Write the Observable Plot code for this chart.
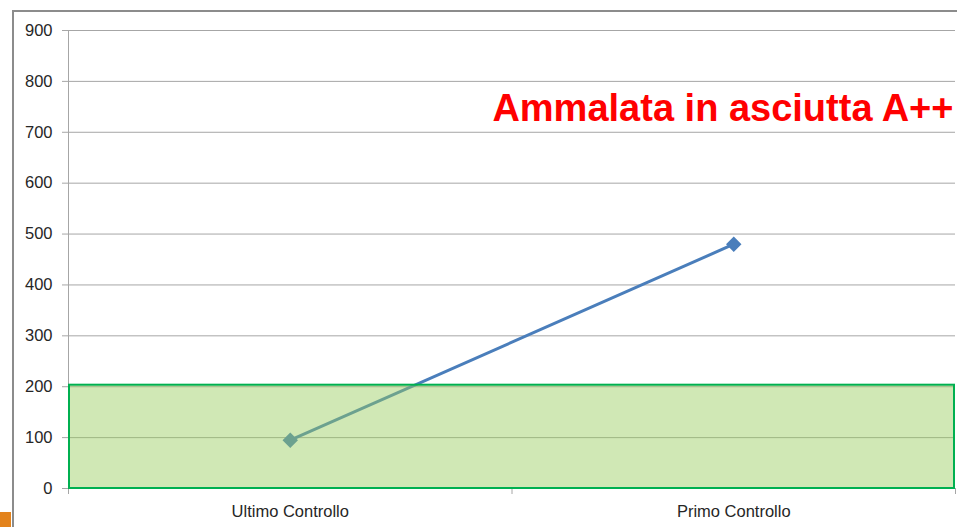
<!DOCTYPE html>
<html>
<head>
<meta charset="utf-8">
<script src="https://cdn.jsdelivr.net/npm/d3@7"></script>
<script src="https://cdn.jsdelivr.net/npm/@observablehq/plot@0.6"></script>
<style>
  html, body { margin: 0; padding: 0; background: #fff; overflow: hidden; }
  #wrap { position: relative; width: 957px; height: 527px; }
  #frame { position: absolute; left: 12px; top: 10px; width: 960px; height: 540px;
           border-left: 2px solid #8c8c8c; border-top: 2px solid #8c8c8c; }
  #corner { position: absolute; left: 0; top: 512px; width: 11px; height: 15px; background: #e3831c; }
  #chart { position: absolute; left: 0; top: 0; }
</style>
</head>
<body>
<div id="wrap">
  <div id="frame"></div>
  <div id="corner"></div>
  <div id="chart"></div>
</div>
<script>
const categories = ["Ultimo Controllo", "Primo Controllo"];
const values = [95, 480];
const yTicks = [0, 100, 200, 300, 400, 500, 600, 700, 800, 900];
const bandLow = 0;
const bandHigh = 203;
const title = "Ammalata in asciutta A++";

const pts = categories.map((c, i) => ({cat: c, x: i + 0.5, y: values[i]}));

const chart = Plot.plot({
  width: 957,
  height: 527,
  marginLeft: 68,
  marginRight: 2,
  marginTop: 30,
  marginBottom: 39,
  style: {fontFamily: "'Liberation Sans', Arial, sans-serif", fontSize: "16px", color: "#262626", background: "transparent"},
  x: {domain: [0, categories.length], axis: null},
  y: {domain: [0, 900], axis: null},
  marks: [
    Plot.gridY(yTicks.filter(d => d > 0), {stroke: "#a6a6a6", strokeOpacity: 1}),
    Plot.axisY(yTicks, {tickSize: 6, tickPadding: 10, stroke: "#a6a6a6", fill: "#262626", fontSize: 16.5}),
    Plot.ruleX([0], {stroke: "#a6a6a6"}),
    Plot.ruleY([0], {stroke: "#a6a6a6"}),
    Plot.axisX(d3.range(categories.length + 1), {tickSize: 6, tickFormat: () => "", stroke: "#a6a6a6"}),
    Plot.axisX(pts.map(d => d.x), {tickSize: 0, tickPadding: 17, tickFormat: (d, i) => categories[i], fill: "#262626", fontSize: 16.5}),
    Plot.line(pts, {x: "x", y: "y", stroke: "#4a7ebb", strokeWidth: 3}),
    Plot.dot(pts, {x: "x", y: "y", symbol: "diamond2", r: 6, fill: "#4a7ebb", stroke: "#4a7ebb"}),
    Plot.rect([{x1: 0, x2: categories.length, y1: bandLow, y2: bandHigh}], {
      x1: "x1", x2: "x2", y1: "y1", y2: "y2",
      fill: "rgb(150,204,91)", fillOpacity: 0.45, stroke: "#00b050", strokeWidth: 2,
      insetLeft: 1, insetRight: 1
    }),
    Plot.text([title], {frameAnchor: "top-right", dx: -2, dy: 64, text: d => d, textAnchor: "end",
      fill: "#ff0000", fontSize: 38, fontWeight: "bold", fontFamily: "'Liberation Sans', Arial, sans-serif"})
  ]
});
document.getElementById("chart").appendChild(chart);
</script>
</body>
</html>
